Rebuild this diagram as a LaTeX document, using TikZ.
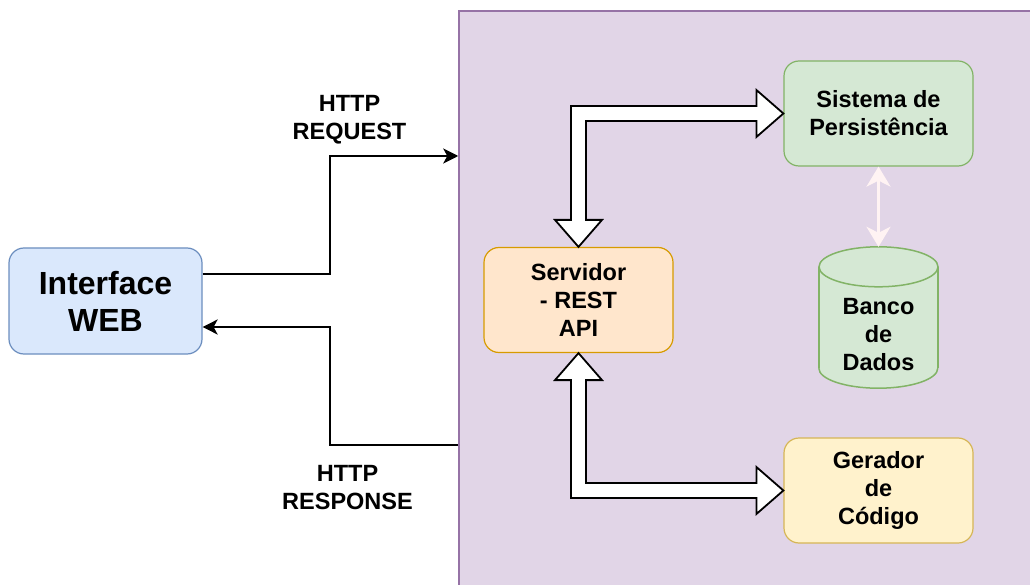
\documentclass[tikz,border=0pt]{standalone}
\usepackage{fontspec}
\setmainfont{Liberation Sans}
\usetikzlibrary{arrows.meta,calc}

\definecolor{webfill}{HTML}{DAE8FC}\definecolor{webline}{HTML}{6C8EBF}
\definecolor{srvfill}{HTML}{FFE6CC}\definecolor{srvline}{HTML}{D79B00}
\definecolor{grnfill}{HTML}{D5E8D4}\definecolor{grnline}{HTML}{82B366}
\definecolor{genfill}{HTML}{FFF2CC}\definecolor{genline}{HTML}{D6B656}
\definecolor{bkfill}{HTML}{E1D5E7}\definecolor{bkline}{HTML}{9673A6}
\definecolor{pale}{HTML}{FFF3F3}

% Hollow elbow arrow: #1 = tip on the vertical leg, #2 = tip on the horizontal leg,
% #3 = +1 when the vertical tip lies above the corner, -1 when below.
\newcommand{\elbowflex}[3]{%
  \draw[flexarrow] let \p1=(#1), \p2=(#2) in
    ({\x1},{\y1}) -- ({\x1-23.5pt},{\y1-(#3)*27pt}) -- ({\x1-7.5pt},{\y1-(#3)*27pt})
    -- ({\x1-7.5pt},{\y2-(#3)*7.5pt}) -- ({\x2-27pt},{\y2-(#3)*7.5pt})
    -- ({\x2-27pt},{\y2-(#3)*23.5pt}) -- ({\x2},{\y2})
    -- ({\x2-27pt},{\y2+(#3)*23.5pt}) -- ({\x2-27pt},{\y2+(#3)*7.5pt})
    -- ({\x1+7.5pt},{\y2+(#3)*7.5pt}) -- ({\x1+7.5pt},{\y1-(#3)*27pt})
    -- ({\x1+23.5pt},{\y1-(#3)*27pt}) -- cycle;}

\tikzset{
  txt/.style={font=\bfseries\fontsize{23.5}{28}\selectfont, align=center, text=black},
  card/.style={txt, rounded corners=15pt, line width=1.2pt,
               minimum width=189pt, minimum height=105pt},
  flexarrow/.style={fill=white, draw=black, line width=1.8pt, line join=miter},
  wire/.style={draw=black, line width=2.2pt,
               -{Stealth[length=15pt, width=15pt, inset=4pt]}},
  pinklink/.style={draw=pale, line width=3pt,
               {Stealth[length=20pt, width=24pt, inset=6pt]}-{Stealth[length=20pt, width=24pt, inset=6pt]}},
  dbline/.style={draw=grnline, line width=1.5pt},
}

\begin{document}
\begin{tikzpicture}[x=1pt, y=-1pt]
\useasboundingbox (0,0) rectangle (1030,585);
\fill[white] (0,0) rectangle (1030,585);

% back-end area
\node[draw=bkline, fill=bkfill, line width=1.5pt, minimum width=590pt, minimum height=590pt,
      inner sep=0pt] (backend) at (754,306) {};
\coordinate (reqin) at (backend.west |- 0,156);
\coordinate (resout) at (backend.west |- 0,445);

% components
\node[card, draw=webline, fill=webfill, minimum width=193pt, minimum height=106pt,
      font=\bfseries\fontsize{32}{37}\selectfont] (web) at (105.5,301) {Interface\\WEB};
\node[card, draw=srvline, fill=srvfill] (srv) at (578.5,300) {Servidor\\- REST\\API};
\node[card, draw=grnline, fill=grnfill] (sis) at (878.5,113.5) {Sistema de\\Persistência};
\node[card, draw=genline, fill=genfill] (ger) at (878.5,490.5) {Gerador\\de\\Código};

% database cylinder
\node[minimum width=119pt, minimum height=141pt, inner sep=0pt] (db) at (878.5,317.5) {};
\fill[grnfill]
  ([yshift=-20pt]db.north west) -- ([yshift=20pt]db.south west)
  arc[start angle=180, end angle=360, x radius=59.5pt, y radius=20pt]
  -- ([yshift=-20pt]db.north east)
  arc[start angle=0, end angle=180, x radius=59.5pt, y radius=20pt] -- cycle;
\draw[dbline] ([yshift=-20pt]db.north) ellipse [x radius=59.5pt, y radius=20pt];
\draw[dbline] ([yshift=20pt]db.south west)
  arc[start angle=180, end angle=360, x radius=59.5pt, y radius=20pt];
\draw[dbline] ([yshift=-20pt]db.north west) -- ([yshift=20pt]db.south west);
\draw[dbline] ([yshift=-20pt]db.north east) -- ([yshift=20pt]db.south east);
\node[txt] (dblabel) at ([yshift=-17pt]db.center) {Banco\\de\\Dados};

% request / response
\draw[wire] ([yshift=27pt]web.east) -| (330,156) -- (reqin);
\draw[wire] (resout) -| (330,327) -- ([yshift=-26pt]web.east);
\node[txt] (reqlabel) at (349.5,120) {HTTP\\REQUEST};
\node[txt] (reslabel) at (347.5,488) {HTTP\\RESPONSE};

% internal links
\elbowflex{srv.north}{sis.west}{-1}
\elbowflex{srv.south}{ger.west}{1}
\draw[pinklink] (sis.south) -- (db.north);
\end{tikzpicture}
\end{document}
